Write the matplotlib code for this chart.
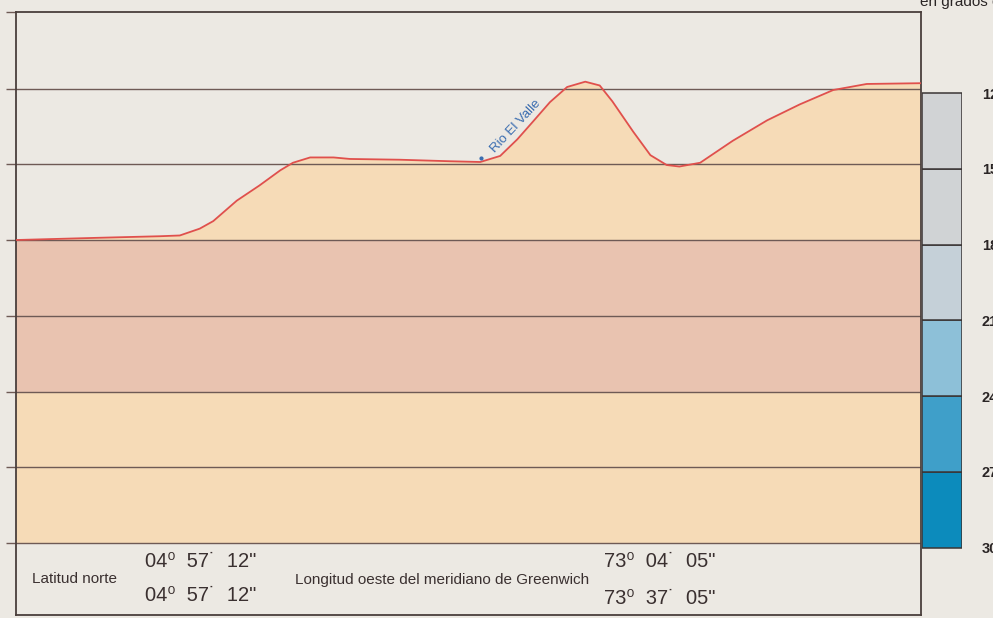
import matplotlib

matplotlib.use("Agg")
import matplotlib.pyplot as plt
import matplotlib.transforms as mtransforms

# profile: distance along the section (0-100) and level (grid units)
dist = [0.0, 9.3, 15.9, 18.1, 20.3, 21.8, 24.4, 26.9, 29.2, 30.6, 32.5, 35.1,
        36.9, 42.4, 47.9, 51.3, 53.5, 55.4, 57.1, 59.0, 60.9, 62.9, 64.5,
        65.9, 68.2, 70.1, 71.9, 73.3, 75.6, 79.2, 83.0, 86.6, 90.3, 94.0, 99.9]
level = [4.00, 4.03, 4.05, 4.06, 4.15, 4.25, 4.52, 4.72, 4.92, 5.02, 5.09, 5.09,
         5.07, 5.06, 5.04, 5.03, 5.11, 5.33, 5.56, 5.82, 6.02, 6.09, 6.04,
         5.83, 5.43, 5.12, 4.99, 4.97, 5.02, 5.31, 5.58, 5.79, 5.98, 6.06, 6.07]

grid_levels = [0, 1, 2, 3, 4, 5, 6]
temp_labels = ["30", "27", "24", "21", "18", "15", "12"]  # bottom to top
temp_colors = ["#0c8bbc", "#3f9fc9", "#8dc0d8", "#c5d0d8", "#d0d3d5", "#d1d3d5"]

river_name = "Rio El Valle"
river_pos = (51.4, 5.08)

lat = ["04\u2070  57\u02d9  12\"", "04\u2070  57\u02d9  12\""]
lon = ["73\u2070  04\u02d9  05\"", "73\u2070  37\u02d9  05\""]

BG = "#ece9e3"
PEACH = "#f6dbb7"
PINK = "#e9c3b0"
LINE = "#6e5a55"
TXT = "#3a3030"

plt.rcParams["font.family"] = ["Liberation Sans Narrow", "Liberation Sans", "DejaVu Sans"]
NUMFONT = ["Liberation Sans", "DejaVu Sans"]

fig = plt.figure(figsize=(9.93, 6.18), dpi=100, facecolor=BG)
W, H = 993, 618
ylo, yhi = -0.95, 7.01

ax = fig.add_axes([16 / W, 3 / H, 905 / W, 603 / H], facecolor=BG)
ax.set_xlim(0, 100)
ax.set_ylim(ylo, yhi)

ax.fill_between([0, 100], 0, 2, color=PEACH, lw=0)
ax.fill_between([0, 100], 2, 4, color=PINK, lw=0)
ax.fill_between(dist, 4, level, color=PEACH, lw=0)
for g in grid_levels:
    ax.axhline(g, color=LINE, lw=1.0, zorder=2)
ax.plot(dist, level, color="#e0504c", lw=1.3, zorder=3)

ax.plot(*river_pos, marker="o", ms=2, color="#3a6db0", zorder=4)
ax.text(river_pos[0] + 0.8, river_pos[1] + 0.04, river_name, rotation=47,
        color="#3a6db0", fontsize=9.5, ha="left", va="bottom")

ax.set_yticks(grid_levels + [yhi])
ax.set_xticks([])
ax.tick_params(axis="y", direction="out", length=7, width=1.0, color=LINE,
               labelleft=False)
for s in ax.spines.values():
    s.set_color("#4a3f3c")
    s.set_linewidth(1.3)

# bottom coordinate notes
ax.text(1.8, -0.47, "Latitud norte", fontsize=11, color=TXT, va="center")
ax.text(14.2, -0.24, lat[0], fontsize=14.5, color=TXT, va="center", family=NUMFONT)
ax.text(14.2, -0.69, lat[1], fontsize=14.5, color=TXT, va="center", family=NUMFONT)
ax.text(30.8, -0.49, "Longitud oeste del meridiano de Greenwich", fontsize=11,
        color=TXT, va="center")
ax.text(65.0, -0.25, lon[0], fontsize=14.5, color=TXT, va="center", family=NUMFONT)
ax.text(65.0, -0.73, lon[1], fontsize=14.5, color=TXT, va="center", family=NUMFONT)

# temperature scale
cax = fig.add_axes([922 / W, 3 / H, 40 / W, 603 / H], sharey=ax)
cax.set_xlim(0, 1)
cax.set_ylim(ylo, yhi)
cax.axis("off")
for i, c in enumerate(temp_colors):
    cax.bar(0.5, 1, bottom=grid_levels[i] - 0.06, width=1, color=c,
            edgecolor="#3a3535", lw=1.1)
tr = mtransforms.blended_transform_factory(cax.transAxes, cax.transData)
for g, lab in zip(grid_levels, temp_labels):
    cax.text(1.5, g - 0.08, lab, transform=tr, fontsize=10.5, fontweight="bold",
             color="#2a2525", va="center", ha="left", clip_on=False,
             family=NUMFONT)

fig.text(920 / W, 1 - 6 / H, "en grados centígrados", fontsize=11,
         color="#2a2525", va="baseline", ha="left")

fig.savefig("out.png", dpi=100, facecolor=BG)
